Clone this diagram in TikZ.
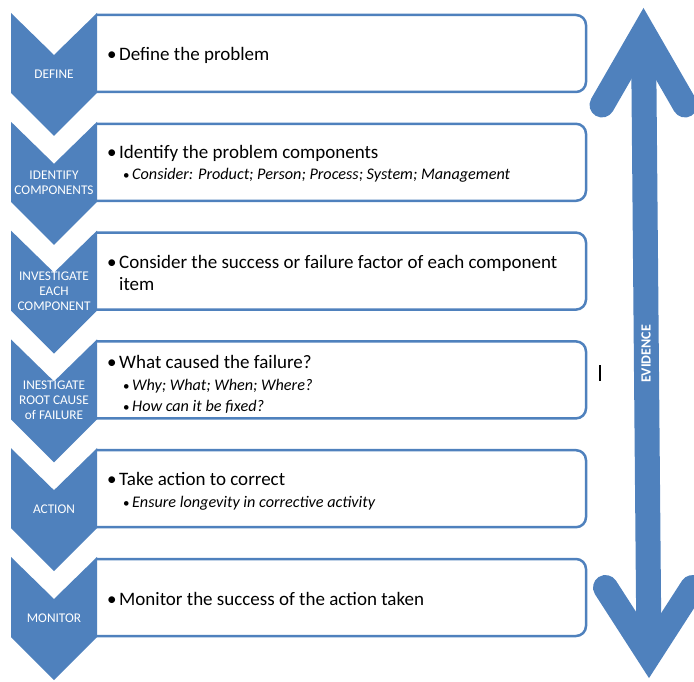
\documentclass[tikz,border=0pt]{standalone}
\usepackage{fontspec}
\setmainfont{Carlito}
\definecolor{evblue}{RGB}{79,129,189}
\tikzset{
  chev/.style={fill=evblue, draw=none},
  stepbox/.style={draw=evblue, line width=2.5pt, fill=white, rounded corners=10pt},
  chevtext/.style={text=white, font=\fontsize{13.3}{15}\selectfont, align=center, inner sep=0pt},
  boxtext/.style={anchor=west, align=left, inner sep=0pt, font=\fontsize{19}{21.5}\selectfont},
  evline/.style={draw=evblue, line width=25pt}
}
\newcommand{\mainpt}[1]{\makebox[12pt][l]{\textbullet}#1}
\newcommand{\subpt}[1]{{\fontsize{16.2}{21.5}\selectfont\hspace*{16pt}\makebox[9pt][l]{\fontsize{13}{13}\selectfont\textbullet}\textit{#1}}}

\begin{document}
\begin{tikzpicture}[x=1pt, y=-1pt]
\useasboundingbox (0,0) rectangle (694,682);
% boxes behind the chevrons
\foreach \i in {0,...,5} {
  \pgfmathsetmacro{\ytop}{13+108.8*\i}
  \draw[stepbox] (96,\ytop+2) -- (586,\ytop+2) -- (586,\ytop+79) -- (96,\ytop+79);
}
% chevrons
\foreach \i/\lbl in {0/DEFINE, 1/{IDENTIFY\\COMPONENTS}, 2/{INVESTIGATE\\EACH\\COMPONENT},
    3/{INESTIGATE\\ROOT CAUSE\\of FAILURE}, 4/ACTION, 5/MONITOR} {
  \pgfmathsetmacro{\ytop}{13+108.8*\i}
  \fill[chev] (11,\ytop) -- (54,\ytop+42) -- (97,\ytop) -- (97,\ytop+80)
    -- (54,\ytop+123) -- (11,\ytop+80) -- cycle;
  \node[chevtext] (chev\i) at (54,\ytop+61) {\lbl};
}
% box texts
\node[boxtext] (txt0) at (107,55.5) {\mainpt{Define the problem}};
\node[boxtext] (txt1) at (107,164) {\mainpt{Identify the problem components}\\
  \subpt{Consider: Product; Person; Process; System; Management}};
\node[boxtext] (txt2) at (107,273) {\mainpt{Consider the success or failure factor of each component}\\
  \hspace*{12pt}item};
\node[boxtext] (txt3) at (107,384.5) {\mainpt{What caused the failure?}\\
  \subpt{Why; What; When; Where?}\\
  \subpt{How can it be fixed?}};
\node[boxtext] (txt4) at (107,491.5) {\mainpt{Take action to correct}\\
  \subpt{Ensure longevity in corrective activity}};
\node[boxtext] (txt5) at (107,598.5) {\mainpt{Monitor the success of the action taken}};
% evidence arrow
\coordinate (evtop) at (643.5,33);
\coordinate (evbot) at (649,655);
\coordinate (evtopl) at (602,105);
\coordinate (evtopr) at (685,105);
\coordinate (evbotl) at (605.5,587.5);
\coordinate (evbotr) at (692.5,587.5);
\draw[evline] (evtop) -- (evbot);
\draw[evline, line cap=round, line join=miter] (evtopl) -- (evtop) -- (evtopr);
\draw[evline, line cap=round, line join=miter] (evbotl) -- (evbot) -- (evbotr);
\node[rotate=90, text=white, font=\fontsize{14}{16}\selectfont\bfseries] (evlabel) at (646,354) {EVIDENCE};
% stray cursor mark
\draw[line width=1.2pt] (600,365) -- (600,381);
\end{tikzpicture}
\end{document}
